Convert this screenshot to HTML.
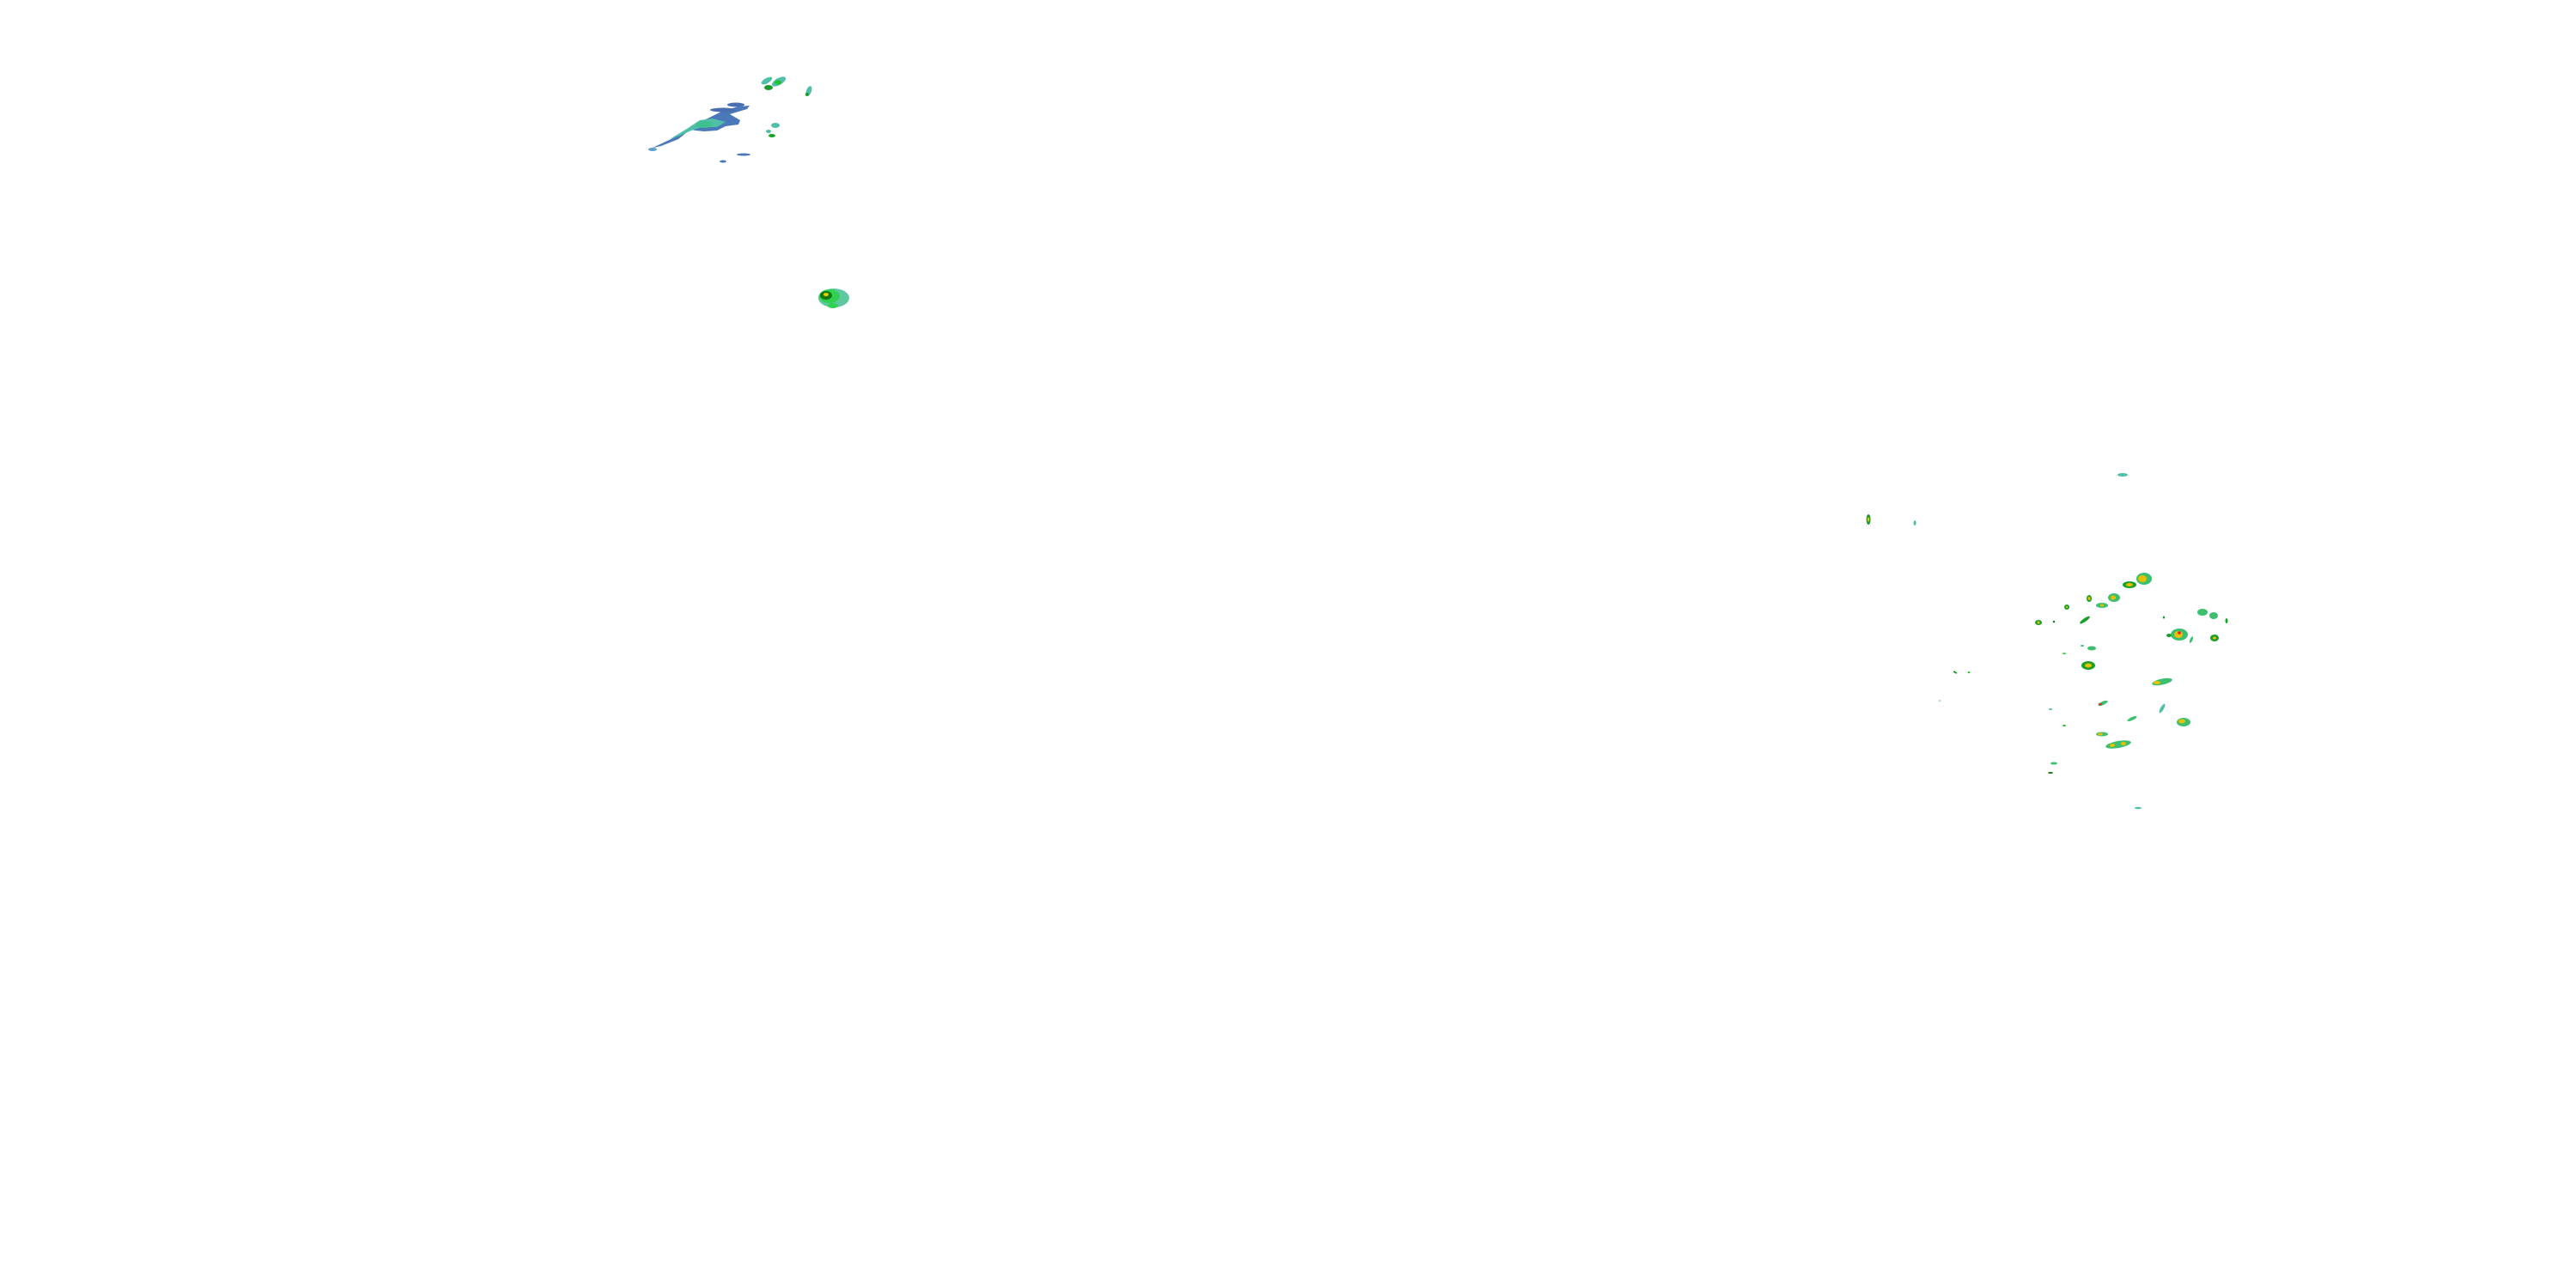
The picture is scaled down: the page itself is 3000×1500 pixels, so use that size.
<!DOCTYPE html>
<html><head><style>html,body{margin:0;padding:0;background:#fff;width:3000px;height:1500px;overflow:hidden}</style></head>
<body>
<svg width="3000" height="1500" viewBox="0 0 3000 1500" xmlns="http://www.w3.org/2000/svg">
<rect width="3000" height="1500" fill="#fff"/>
<!-- top-left band -->
<g>
<path d="M752,174 L770,170 L790,162 L805,150 L820,140 L840,130 L860,124 L873,123 L870,127 L850,133 L862,140 L860,145 L845,147 L835,152 L820,153 L810,152 L800,150 L790,158 L775,165 L760,172 Z" fill="#4a78b8"/>
<path d="M780,162 L800,150 L815,140 L830,138 L845,142 L835,148 L818,148 L805,152 L792,158 Z" fill="#4fbfa8"/>
<ellipse cx="820" cy="145" rx="10" ry="4" fill="#40c090"/>
<ellipse cx="842" cy="128" rx="15" ry="2.5" fill="#4a6fb0"/>
<ellipse cx="857" cy="122" rx="10" ry="2.5" fill="#4a6fb0"/>
<ellipse cx="866" cy="180" rx="8" ry="1.5" fill="#4a78b8"/>
<ellipse cx="842" cy="188" rx="4" ry="1.5" fill="#4a78b8"/>
<ellipse cx="760" cy="174" rx="5" ry="2" fill="#5aa0c8"/>
<ellipse cx="893" cy="94" rx="7" ry="3" fill="#4fbfa8" transform="rotate(-30 893 94)"/>
<ellipse cx="895" cy="102" rx="5" ry="3" fill="#1a9a2a"/>
<ellipse cx="907" cy="95" rx="9" ry="4" fill="#4fbfa8" transform="rotate(-30 907 95)"/>
<ellipse cx="906" cy="96" rx="4" ry="2.5" fill="#22c030"/>
<ellipse cx="942" cy="106" rx="3" ry="6" fill="#4fbfa8" transform="rotate(20 942 106)"/>
<ellipse cx="940" cy="110" rx="2" ry="2" fill="#1a9a2a"/>
<ellipse cx="903" cy="146" rx="5" ry="3" fill="#4fbfa8"/>
<ellipse cx="895" cy="153" rx="3" ry="2" fill="#4fbfa8"/>
<ellipse cx="899" cy="158" rx="4" ry="2" fill="#1aa02a"/>
<!-- storm -->
<ellipse cx="971" cy="347" rx="18" ry="11" fill="#5fc8a0"/>
<ellipse cx="966" cy="345" rx="12" ry="8" fill="#30d050"/>
<ellipse cx="962" cy="344" rx="7" ry="5" fill="#107a10"/>
<ellipse cx="962" cy="343" rx="3" ry="2" fill="#e8d000"/>
<ellipse cx="970" cy="356" rx="6" ry="3" fill="#30d050"/>
</g>
<!-- right cluster -->
<g id="c">
<ellipse cx="2472" cy="553" rx="6" ry="2" fill="#4fbfa8"/>
<ellipse cx="2176" cy="605" rx="2.5" ry="6" fill="#1a9a2a"/><ellipse cx="2176" cy="605" rx="1.2" ry="2.5" fill="#e8c000"/>
<ellipse cx="2230" cy="609" rx="1.5" ry="3" fill="#4fbfa8"/>
<ellipse cx="2497" cy="674" rx="9" ry="7" fill="#3cc070"/><ellipse cx="2495" cy="674" rx="5" ry="4" fill="#e8c000"/>
<ellipse cx="2480" cy="681" rx="8" ry="4" fill="#1aa02a"/><ellipse cx="2480" cy="681" rx="4" ry="2" fill="#e8c000"/>
<ellipse cx="2462" cy="696" rx="7" ry="5" fill="#3cc070"/><ellipse cx="2461" cy="696" rx="3" ry="2.5" fill="#e8c000"/>
<ellipse cx="2433" cy="697" rx="3" ry="4" fill="#1aa02a"/><ellipse cx="2433" cy="697" rx="1.5" ry="2" fill="#e8c000"/>
<ellipse cx="2448" cy="705" rx="7" ry="3" fill="#3cc070"/><ellipse cx="2448" cy="705" rx="2" ry="1.5" fill="#e8c000"/>
<ellipse cx="2407" cy="707" rx="3" ry="3" fill="#1aa02a"/><ellipse cx="2407" cy="707" rx="1.2" ry="1.2" fill="#e8c000"/>
<ellipse cx="2374" cy="725" rx="4" ry="3" fill="#1aa02a"/><ellipse cx="2374" cy="725" rx="1.5" ry="1.5" fill="#e8c000"/>
<ellipse cx="2392" cy="724" rx="1.2" ry="1.2" fill="#107a10"/>
<ellipse cx="2428" cy="722" rx="7" ry="2" fill="#1aa02a" transform="rotate(-35 2428 722)"/>
<ellipse cx="2565" cy="713" rx="6" ry="4" fill="#3cc070"/>
<ellipse cx="2578" cy="717" rx="5" ry="4" fill="#3cc070"/>
<ellipse cx="2593" cy="723" rx="1.5" ry="3" fill="#1aa02a"/>
<ellipse cx="2520" cy="719" rx="1.2" ry="1.5" fill="#1aa02a"/>
<ellipse cx="2538" cy="739" rx="10" ry="7" fill="#3cc070"/><ellipse cx="2537" cy="739" rx="5" ry="4" fill="#e8c000"/><ellipse cx="2538" cy="737" rx="1.8" ry="1.8" fill="#e02020"/>
<ellipse cx="2526" cy="740" rx="3" ry="2" fill="#1aa02a"/>
<ellipse cx="2552" cy="745" rx="1.5" ry="4" fill="#3cc070" transform="rotate(25 2552 745)"/>
<ellipse cx="2579" cy="743" rx="5" ry="4" fill="#1aa02a"/><ellipse cx="2579" cy="743" rx="2" ry="1.5" fill="#e8c000"/>
<ellipse cx="2436" cy="755" rx="5" ry="2.5" fill="#3cc070"/>
<ellipse cx="2425" cy="752" rx="2" ry="1" fill="#3cc070"/>
<ellipse cx="2404" cy="761" rx="2.5" ry="0.8" fill="#22c030"/>
<ellipse cx="2432" cy="775" rx="8" ry="5" fill="#1aa02a"/><ellipse cx="2432" cy="775" rx="4" ry="2.5" fill="#e8c000"/>
<ellipse cx="2518" cy="794" rx="12" ry="3.5" fill="#3cc070" transform="rotate(-12 2518 794)"/><ellipse cx="2512" cy="795" rx="4" ry="2" fill="#e8c000"/>
<ellipse cx="2277" cy="783" rx="2.5" ry="1" fill="#1aa02a" transform="rotate(30 2277 783)"/>
<ellipse cx="2293" cy="783" rx="1.5" ry="1" fill="#22c030"/>
<ellipse cx="2259" cy="816" rx="0.8" ry="0.8" fill="#22c030"/>
<ellipse cx="2449" cy="819" rx="6" ry="2" fill="#3cc070" transform="rotate(-25 2449 819)"/><ellipse cx="2446" cy="820" rx="2" ry="1.2" fill="#e03020"/>
<ellipse cx="2388" cy="826" rx="2" ry="1" fill="#4fbfa8"/>
<ellipse cx="2518" cy="825" rx="2" ry="6" fill="#4fbfa8" transform="rotate(30 2518 825)"/>
<ellipse cx="2483" cy="837" rx="6" ry="1.8" fill="#3cc070" transform="rotate(-25 2483 837)"/>
<ellipse cx="2404" cy="845" rx="2" ry="1" fill="#22c030"/>
<ellipse cx="2543" cy="841" rx="8" ry="5" fill="#3cc070"/><ellipse cx="2541" cy="840" rx="4" ry="2.5" fill="#e8c000"/>
<ellipse cx="2448" cy="855" rx="7" ry="2.5" fill="#3cc070"/><ellipse cx="2446" cy="855" rx="3" ry="1.5" fill="#e8c000"/>
<ellipse cx="2467" cy="867" rx="15" ry="4" fill="#3cc070" transform="rotate(-10 2467 867)"/><ellipse cx="2460" cy="868" rx="3" ry="2" fill="#e8c000"/><ellipse cx="2473" cy="866" rx="3" ry="2" fill="#e8c000"/>
<ellipse cx="2392" cy="889" rx="4" ry="1.5" fill="#3cc070"/>
<ellipse cx="2388" cy="900" rx="3" ry="1" fill="#107a10"/>
<ellipse cx="2490" cy="941" rx="4" ry="1.2" fill="#4fbfa8"/>
</g>
</svg>
</body></html>
